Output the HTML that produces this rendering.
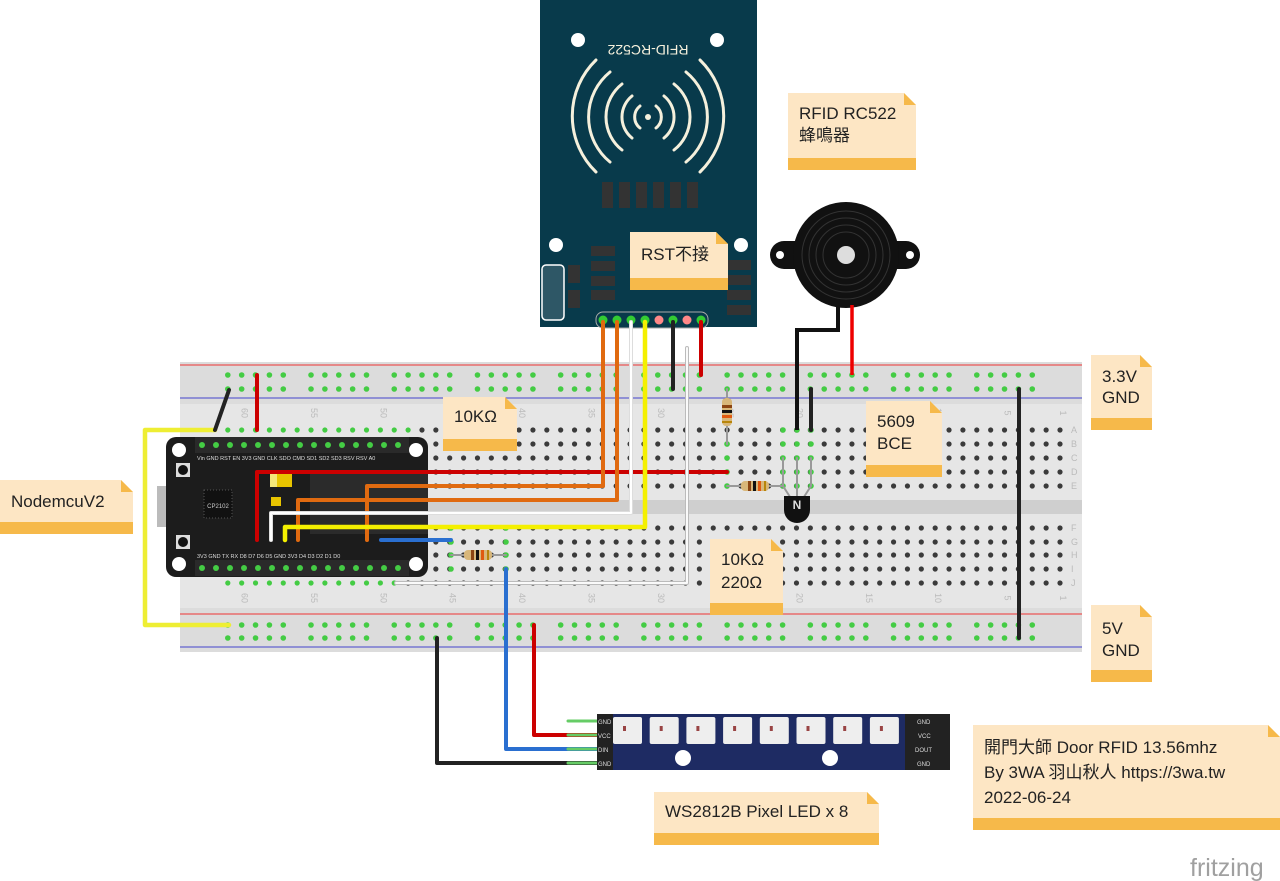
<!DOCTYPE html>
<html><head><meta charset="utf-8"><style>
html,body{margin:0;padding:0;background:#fff;}
svg{display:block;}
text{font-family:"Liberation Sans","Noto Sans CJK TC",sans-serif;}
</style></head><body>
<svg id="s" width="1280" height="881" viewBox="0 0 1280 881" xmlns="http://www.w3.org/2000/svg">
<defs>
<g id="res">
<rect x="-14" y="-5" width="28" height="10" rx="4" fill="#d8b77a"/>
<rect x="-7" y="-5" width="3" height="10" fill="#8b4513"/><rect x="-2" y="-5" width="3" height="10" fill="#111"/><rect x="3" y="-5" width="3" height="10" fill="#e05a10"/><rect x="9" y="-5" width="2" height="10" fill="#b8860b"/>
</g>
</defs>
<!-- breadboard -->
<rect x="180" y="362" width="902" height="290" fill="#dcdcdc"/>
<rect x="180" y="404" width="902" height="204" fill="#e6e6e6"/>
<rect x="180" y="500" width="902" height="14" fill="#cfcfcf"/>
<line x1="180" y1="365" x2="1082" y2="365" stroke="#e33" stroke-width="1"/>
<line x1="180" y1="398" x2="1082" y2="398" stroke="#44c" stroke-width="1"/>
<line x1="180" y1="614" x2="1082" y2="614" stroke="#e33" stroke-width="1"/>
<line x1="180" y1="647" x2="1082" y2="647" stroke="#44c" stroke-width="1"/>
<g id="holes"></g>
<g id="labels" fill="#bbb" font-size="9"></g>

<!-- RFID board -->
<rect x="540" y="0" width="217" height="327" fill="#083a4b"/>
<circle cx="578" cy="40" r="7" fill="#fff"/><circle cx="717" cy="40" r="7" fill="#fff"/>
<circle cx="556" cy="245" r="7" fill="#fff"/><circle cx="741" cy="245" r="7" fill="#fff"/>
<text x="648" y="55" font-size="14" fill="#f5f0dc" text-anchor="middle" transform="rotate(180 648 50)">RFID-RC522</text>
<g fill="none" stroke="#f5f0dc" stroke-width="3" stroke-linecap="round">
<path d="M640 106 A14 14 0 0 0 640 128"/><path d="M656 106 A14 14 0 0 1 656 128"/>
<path d="M632 96 A27 27 0 0 0 632 138"/><path d="M664 96 A27 27 0 0 1 664 138"/>
<path d="M622 84 A42 42 0 0 0 622 150"/><path d="M674 84 A42 42 0 0 1 674 150"/>
<path d="M610 72 A58 58 0 0 0 610 162"/><path d="M686 72 A58 58 0 0 1 686 162"/>
<path d="M596 60 A78 78 0 0 0 596 172"/><path d="M700 60 A78 78 0 0 1 700 172"/>
</g>
<circle cx="648" cy="117" r="3" fill="#f5f0dc"/>
<g fill="#333"><rect x="602" y="182" width="11" height="26"/><rect x="619" y="182" width="11" height="26"/><rect x="636" y="182" width="11" height="26"/><rect x="653" y="182" width="11" height="26"/><rect x="670" y="182" width="11" height="26"/><rect x="687" y="182" width="11" height="26"/>
<rect x="591" y="246" width="24" height="10"/><rect x="591" y="261" width="24" height="10"/><rect x="591" y="276" width="24" height="10"/><rect x="591" y="290" width="24" height="10"/>
<rect x="727" y="260" width="24" height="10"/><rect x="727" y="275" width="24" height="10"/><rect x="727" y="290" width="24" height="10"/><rect x="727" y="305" width="24" height="10"/>
<rect x="568" y="265" width="12" height="18"/><rect x="568" y="290" width="12" height="18"/></g>
<rect x="542" y="265" width="22" height="55" rx="4" fill="#2e5766" stroke="#fff" stroke-width="1.5"/>
<rect x="596" y="312" width="112" height="16" rx="7" fill="#083a4b" stroke="#aaa"/>
<g><circle cx="603" cy="320" r="4.5" fill="#3c3"/><circle cx="617" cy="320" r="4.5" fill="#3c3"/><circle cx="631" cy="320" r="4.5" fill="#3c3"/><circle cx="645" cy="320" r="4.5" fill="#3c3"/><circle cx="659" cy="320" r="4.5" fill="#f88"/><circle cx="673" cy="320" r="4.5" fill="#3c3"/><circle cx="687" cy="320" r="4.5" fill="#f88"/><circle cx="701" cy="320" r="4.5" fill="#3c3"/></g>

<!-- buzzer -->
<rect x="770" y="241" width="150" height="28" rx="14" fill="#111"/>
<circle cx="780" cy="255" r="4" fill="#fff"/><circle cx="910" cy="255" r="4" fill="#fff"/>
<circle cx="846" cy="255" r="53" fill="#111"/>
<g fill="none" stroke="#333"><circle cx="846" cy="255" r="44"/><circle cx="846" cy="255" r="37"/><circle cx="846" cy="255" r="30"/><circle cx="846" cy="255" r="23"/></g>
<circle cx="846" cy="255" r="9" fill="#ddd"/>
<polyline points="838,305 838,330 797,330 797,430" fill="none" stroke="#111" stroke-width="4"/>
<line x1="852" y1="305" x2="852" y2="375" stroke="#e00" stroke-width="3.5"/>

<!-- NodeMCU -->
<rect x="157" y="486" width="34" height="41" fill="#bbb"/>
<rect x="166" y="437" width="262" height="140" rx="10" fill="#1c1c1c"/>
<rect x="195" y="437" width="214" height="16" fill="#2a2a2a"/>
<rect x="195" y="560" width="214" height="16" fill="#2a2a2a"/>
<circle cx="179" cy="450" r="7" fill="#fff"/><circle cx="416" cy="450" r="7" fill="#fff"/><circle cx="179" cy="564" r="7" fill="#fff"/><circle cx="416" cy="564" r="7" fill="#fff"/>
<rect x="176" y="463" width="14" height="14" fill="#ddd"/><circle cx="183" cy="470" r="5" fill="#111"/>
<rect x="176" y="535" width="14" height="14" fill="#ddd"/><circle cx="183" cy="542" r="5" fill="#111"/>
<rect x="204" y="490" width="28" height="28" fill="#111" stroke="#555" stroke-dasharray="1 2"/>
<text x="218" y="508" font-size="6" fill="#ccc" text-anchor="middle">CP2102</text>
<rect x="270" y="472" width="22" height="15" fill="#e8c400"/><rect x="270" y="472" width="7" height="15" fill="#f5e87a"/>
<rect x="271" y="497" width="10" height="9" fill="#e8c400"/>
<rect x="310" y="474" width="118" height="60" fill="#2b2b2b"/>
<g font-size="5.5" fill="#ddd"><text x="197" y="460">Vin GND RST EN 3V3 GND CLK SDO CMD SD1 SD2 SD3 RSV RSV A0</text><text x="197" y="558">3V3 GND TX RX D8 D7 D6 D5 GND 3V3 D4 D3 D2 D1 D0</text></g>
<g id="pins"></g>

<!-- wires -->
<g fill="none" stroke-linejoin="round" stroke-linecap="round">
<polyline points="215,430 145,430 145,625 229,625" stroke="#ee3" stroke-width="4.5"/>
<line x1="215" y1="430" x2="229" y2="390" stroke="#222" stroke-width="4"/>
<line x1="257" y1="375" x2="257" y2="430" stroke="#c00" stroke-width="4"/>
<polyline points="257,540 257,472 727,472" stroke="#c00" stroke-width="4"/>
<polyline points="603,322 603,486 367,486 367,540" stroke="#e06a10" stroke-width="4"/>
<polyline points="617,322 617,500 298,500 298,540" stroke="#e06a10" stroke-width="4"/>
<polyline points="631,322 631,513 271,513 271,540" stroke="#ddd" stroke-width="4"/>
<polyline points="631,322 631,513 271,513 271,540" stroke="#fff" stroke-width="2"/>
<polyline points="645,322 645,527 285,527 285,540" stroke="#f4f000" stroke-width="4.5"/>
<line x1="673" y1="322" x2="673" y2="389" stroke="#222" stroke-width="4"/>
<line x1="701" y1="322" x2="701" y2="375" stroke="#c00" stroke-width="4"/>
<polyline points="687,348 687,583 396,583" stroke="#bbb" stroke-width="4"/>
<polyline points="687,348 687,583 396,583" stroke="#fafafa" stroke-width="2"/>
<line x1="381" y1="540" x2="451" y2="540" stroke="#2a6fd0" stroke-width="4"/>
<polyline points="506,569 506,749 598,749" stroke="#2a6fd0" stroke-width="4"/>
<polyline points="534,625 534,735 598,735" stroke="#c00" stroke-width="4"/>
<polyline points="437,638 437,763 598,763" stroke="#222" stroke-width="4"/>
<line x1="811" y1="389" x2="811" y2="430" stroke="#222" stroke-width="4"/>
<line x1="1019" y1="389" x2="1019" y2="638" stroke="#222" stroke-width="4"/>
<line x1="451" y1="555" x2="506" y2="555" stroke="#999" stroke-width="2"/>
<line x1="727" y1="389" x2="727" y2="444" stroke="#999" stroke-width="2"/>
<line x1="727" y1="486" x2="783" y2="486" stroke="#999" stroke-width="2"/>
<polyline points="783,458 783,486 792,500" stroke="#999" stroke-width="2"/>
<line x1="797" y1="458" x2="797" y2="500" stroke="#999" stroke-width="2"/>
<polyline points="811,458 811,486 802,500" stroke="#999" stroke-width="2"/>
<line x1="568" y1="721" x2="598" y2="721" stroke="#6c6" stroke-width="3"/>
<line x1="568" y1="735" x2="598" y2="735" stroke="#6c6" stroke-width="3"/>
<line x1="568" y1="749" x2="598" y2="749" stroke="#6c6" stroke-width="3"/>
<line x1="568" y1="763" x2="598" y2="763" stroke="#6c6" stroke-width="3"/>
</g>
<use href="#res" transform="translate(478,555)"/>
<use href="#res" transform="translate(727,412) rotate(90)"/>
<use href="#res" transform="translate(755,486)"/>
<path d="M784 496 h26 v14 a13 13 0 0 1 -26 0z" fill="#111"/>
<text x="797" y="509" font-size="12" font-weight="bold" fill="#ddd" text-anchor="middle">N</text>

<!-- LED strip -->
<rect x="597" y="714" width="353" height="56" fill="#1e2b63"/>
<rect x="597" y="714" width="16" height="56" fill="#222"/>
<rect x="905" y="714" width="45" height="56" fill="#222"/>
<g id="leds"></g>
<circle cx="683" cy="758" r="8" fill="#fff"/><circle cx="830" cy="758" r="8" fill="#fff"/>
<g font-size="6" fill="#ddd"><text x="598" y="724">GND</text><text x="598" y="738">VCC</text><text x="598" y="752">DIN</text><text x="598" y="766">GND</text>
<text x="917" y="724">GND</text><text x="918" y="738">VCC</text><text x="915" y="752">DOUT</text><text x="917" y="766">GND</text></g>

<!-- notes -->
<g id="notes"></g>
<text x="1190" y="876" font-size="25" fill="#a0a0a0">fritzing</text>
</svg>
<script>
const NS="http://www.w3.org/2000/svg";
function el(p,t,a,txt){const e=document.createElementNS(NS,t);for(const k in a)e.setAttribute(k,a[k]);if(txt!==undefined)e.textContent=txt;p.appendChild(e);return e;}
const H=document.getElementById('holes');
const cx=c=>1060-(c-1)*13.87;
const rows=[430,444,458,472,486,528,542,555,569,583];
const green=new Set();
function g(c,r){green.add(c+','+r);}
for(let c=48;c<=61;c++){g(c,430);}
for(let c=49;c<=61;c++){g(c,583);}
for(let c=1;c<=61;c++){for(const y of rows){let x=cx(c);if(c==61&&y!=430&&y!=583)continue;
 let col='#3b3b3b';
 if(green.has(c+','+y))col='#4c4';
 el(H,'circle',{cx:x,cy:y,r:2.6,fill:col});}}
[[727,[444,458,472,486]],[783,[430,444,458,472,486]],[797,[430,444,458,472,486]],[811,[430,444,458,472,486]],[381,[528,542,555,569]],[451,[528,542,555,569]],[506,[528,542,555,569]]].forEach(([x,ys])=>{ys.forEach(y=>el(H,'circle',{cx:x,cy:y,r:2.8,fill:'#4c4'}))});
for(let c=3;c<=61;c++){if((c-3)%6==5)continue;const x=cx(c);for(const y of [375,389,625,638])el(H,'circle',{cx:x,cy:y,r:2.8,fill:'#4c4'});}
const L=document.getElementById('labels');
for(const n of [1,5,10,15,20,25,30,35,40,45,50,55,60]){const x=cx(n);for(const y of [413,598])el(L,'text',{x:x,y:y,transform:`rotate(90 ${x} ${y})`,'text-anchor':'middle'},String(n));}
'ABCDE'.split('').forEach((s,i)=>el(L,'text',{x:1071,y:rows[i]+3},s));
'FGHIJ'.split('').forEach((s,i)=>el(L,'text',{x:1071,y:rows[i+5]+3},s));
const P=document.getElementById('pins');
for(let i=0;i<15;i++){el(P,'circle',{cx:202+i*14,cy:445,r:3,fill:'#4c4'});el(P,'circle',{cx:202+i*14,cy:568,r:3,fill:'#4c4'});}
const LE=document.getElementById('leds');
for(let i=0;i<8;i++){const x=613+i*36.7;el(LE,'rect',{x:x,y:717,width:29,height:27,fill:'#eee',rx:2});el(LE,'rect',{x:x+10,y:726,width:3,height:5,fill:'#944'});}
const N=document.getElementById('notes');
function note(x,y,w,h,lines,fs,ty,lh){
 el(N,'path',{d:`M${x} ${y} H${x+w-12} L${x+w} ${y+12} V${y+h} H${x}Z`,fill:'#fde6c4'});
 el(N,'path',{d:`M${x+w-12} ${y} L${x+w} ${y+12} H${x+w-12}Z`,fill:'#f6b94a'});
 el(N,'rect',{x:x,y:y+h-12,width:w,height:12,fill:'#f6b94a'});
 lines.forEach((t,i)=>el(N,'text',{x:x+11,y:ty+i*lh,'font-size':fs,fill:'#222'},t));
}
note(788,93,128,77,['RFID RC522','蜂鳴器'],17,119,22);
note(630,232,98,58,['RST不接'],17,260,22);
note(443,397,74,54,['10KΩ'],17,422,22);
note(866,401,76,76,['5609','BCE'],17,427,22);
note(710,539,73,76,['10KΩ','220Ω'],17,565,23);
note(1091,355,61,75,['3.3V','GND'],17,382,21);
note(1091,605,61,77,['5V','GND'],17,634,22);
note(0,480,133,54,['NodemcuV2'],17,507,22);
note(654,792,225,53,['WS2812B Pixel LED x 8'],17,817,22);
note(973,725,307,105,['開門大師 Door RFID 13.56mhz','By 3WA 羽山秋人 https://3wa.tw','2022-06-24'],17,753,25);
</script>
</body></html>
